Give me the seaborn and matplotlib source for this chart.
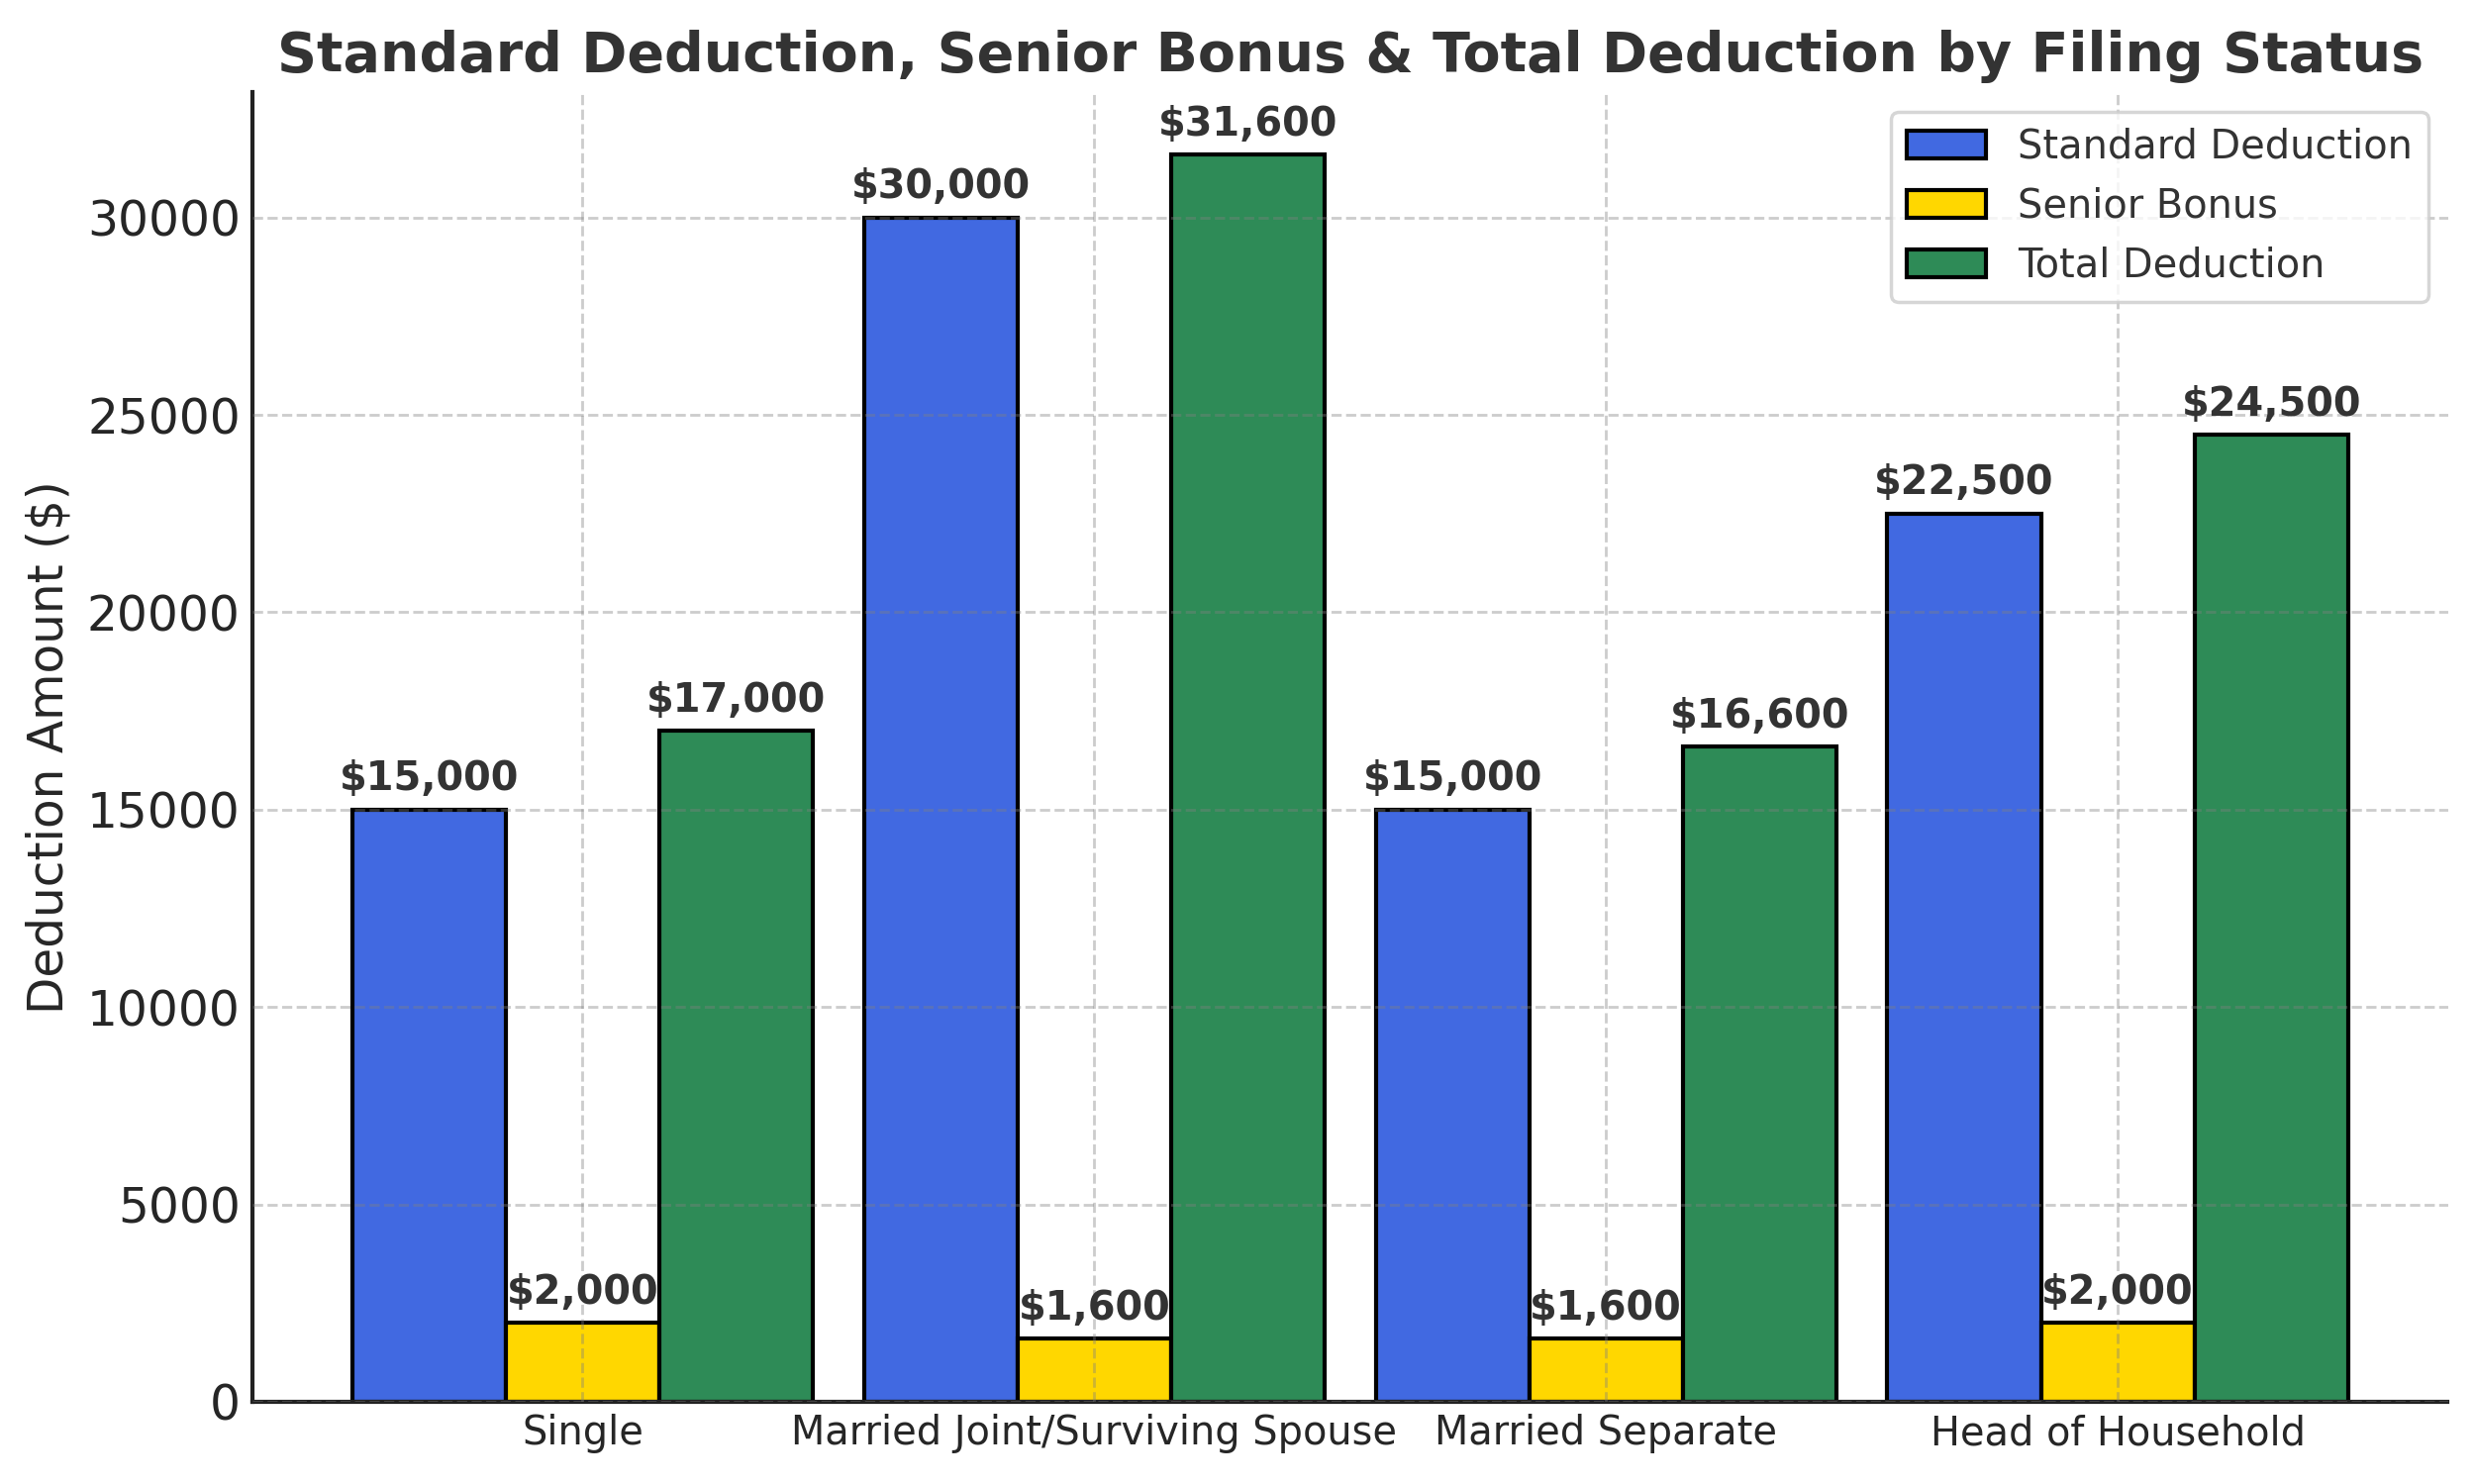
import matplotlib
matplotlib.use("Agg")
import matplotlib.pyplot as plt
import seaborn as sns
import pandas as pd

statuses = ["Single", "Married Joint/Surviving Spouse", "Married Separate", "Head of Household"]
standard = [15000, 30000, 15000, 22500]
senior = [2000, 1600, 1600, 2000]
total = [17000, 31600, 16600, 24500]
series_names = ["Standard Deduction", "Senior Bonus", "Total Deduction"]
colors = ["#4169E1", "#FFD700", "#2E8B57"]

rows = []
for name, vals in zip(series_names, [standard, senior, total]):
    for s, v in zip(statuses, vals):
        rows.append({"Filing Status": s, "Type": name, "Amount": v})
df = pd.DataFrame(rows)

sns.set_style("white")
plt.rcParams["font.family"] = ["DejaVu Sans"]
plt.rcParams["text.color"] = "#333333"

fig, ax = plt.subplots(figsize=(10, 5.996), dpi=250)
sns.barplot(data=df, x="Filing Status", y="Amount", hue="Type",
            palette=colors, saturation=1, edgecolor="black", linewidth=1.2,
            width=0.9, ax=ax, errorbar=None)

for cont in ax.containers:
    for bar in cont:
        h = bar.get_height()
        ax.annotate(f"${h:,.0f}", (bar.get_x() + bar.get_width() / 2, h),
                    xytext=(0, 3), textcoords="offset points",
                    ha="center", va="bottom", fontsize=11.5,
                    fontweight="bold", color="#333333")

# seaborn clamps the categorical axis, put matplotlib's default margin back
ax.set_xlim(-0.645, 3.645)
ax.set_axisbelow(False)
ax.grid(True, linestyle="--", color="gray", alpha=0.4, linewidth=0.8)
ax.set_title("Standard Deduction, Senior Bonus & Total Deduction by Filing Status",
             fontsize=16, fontweight="bold", color="#333333")
ax.set_xlabel("")
ax.set_ylabel("Deduction Amount ($)", fontsize=14)
ax.tick_params(axis="y", labelsize=14, direction="in")
ax.tick_params(axis="x", labelsize=11.5, direction="in")
for side in ["top", "right"]:
    ax.spines[side].set_visible(False)
for side in ["left", "bottom"]:
    ax.spines[side].set_color("#222222")
    ax.spines[side].set_linewidth(1.2)

leg = ax.legend(fontsize=11.5, loc="upper right", frameon=True)
leg.get_frame().set_edgecolor("#cccccc")
leg.set_title(None)

fig.subplots_adjust(left=0.102, right=0.989, bottom=0.0554, top=0.938)
fig.savefig("out.png")
